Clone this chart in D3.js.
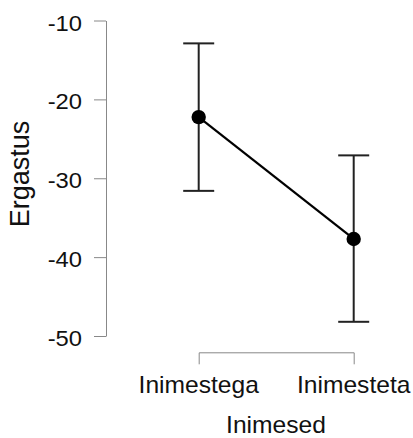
<!DOCTYPE html>
<html>
<head>
<meta charset="utf-8">
<script src="https://cdn.jsdelivr.net/npm/d3@7"></script>
<style>
  body { margin: 0; background: #fff; }
  text { font-family: "Liberation Sans", Arial, sans-serif; fill: #111; }
</style>
</head>
<body>
<div id="chart"></div>
<script>
'use strict';

// data
const groups = ["Inimestega", "Inimesteta"];
const means = [-22.25, -37.7];
const upper = [-12.9, -27.1];
const lower = [-31.6, -48.2];
const yTicks = [-10, -20, -30, -40, -50];
const yTitle = "Ergastus";
const xTitle = "Inimesed";

const W = 413, H = 438;

const svg = d3.select("#chart").append("svg")
    .attr("width", W)
    .attr("height", H);

const y = d3.scaleLinear()
    .domain([-50, -10])
    .range([336, 20.5]);

const x = d3.scalePoint()
    .domain(groups)
    .range([198.7, 353.7]);

// y axis
const yAxis = svg.append("g")
    .attr("transform", "translate(106,0)")
    .call(d3.axisLeft(y).tickValues(yTicks).tickSize(12).tickSizeOuter(0)
        .tickFormat(function(d) { return String(d); }));   // plain hyphen, not unicode minus
yAxis.select(".domain").attr("stroke", "#888");
yAxis.selectAll(".tick line").attr("stroke", "#888");
yAxis.selectAll(".tick text")
    .attr("font-size", 22)
    .attr("font-family", "Liberation Sans, Arial, sans-serif")
    .attr("fill", "#111")
    .attr("dy", "9.5px")
    .attr("transform", "scale(1.08,1)")
    .attr("x", -24 / 1.08);

// x axis bracket
const xAxis = svg.append("g")
    .attr("transform", "translate(0,352.3)")
    .call(d3.axisBottom(x).tickSize(0).tickSizeOuter(12).tickPadding(0));
xAxis.select(".domain").attr("stroke", "#888");
xAxis.selectAll(".tick text").remove();

svg.selectAll(".xlabel")
    .data(groups)
    .enter().append("text")
    .attr("class", "xlabel")
    .attr("transform", function(d) { return "translate(" + x(d) + ",393.3) scale(1.07,1)"; })
    .attr("text-anchor", "middle")
    .attr("font-size", 23)
    .text(function(d) { return d; });

// titles
svg.append("text")
    .attr("transform", "translate(276,433) scale(1.07,1)")
    .attr("text-anchor", "middle")
    .attr("font-size", 23)
    .text(xTitle);

svg.append("text")
    .attr("transform", "translate(29.3,174) rotate(-90)")
    .attr("text-anchor", "middle")
    .attr("font-size", 27)
    .text(yTitle);

// error bars
const rows = groups.map(function(g, i) {
    return {g: g, mean: means[i], hi: upper[i], lo: lower[i]};
});
const capW = 15.5;

const bars = svg.append("g")
    .attr("stroke", "#222")
    .attr("stroke-width", 2);

bars.selectAll(".stem")
    .data(rows)
    .enter().append("line")
    .attr("x1", function(d) { return x(d.g); })
    .attr("x2", function(d) { return x(d.g); })
    .attr("y1", function(d) { return y(d.hi); })
    .attr("y2", function(d) { return y(d.lo); });

bars.selectAll(".capHi")
    .data(rows)
    .enter().append("line")
    .attr("x1", function(d) { return x(d.g) - capW; })
    .attr("x2", function(d) { return x(d.g) + capW; })
    .attr("y1", function(d) { return y(d.hi); })
    .attr("y2", function(d) { return y(d.hi); });

bars.selectAll(".capLo")
    .data(rows)
    .enter().append("line")
    .attr("x1", function(d) { return x(d.g) - capW; })
    .attr("x2", function(d) { return x(d.g) + capW; })
    .attr("y1", function(d) { return y(d.lo); })
    .attr("y2", function(d) { return y(d.lo); });

// mean line and points
const line = d3.line()
    .x(function(d) { return x(d.g); })
    .y(function(d) { return y(d.mean); });

svg.append("path")
    .datum(rows)
    .attr("fill", "none")
    .attr("stroke", "#000")
    .attr("stroke-width", 2.2)
    .attr("d", line);

svg.selectAll(".pt")
    .data(rows)
    .enter().append("circle")
    .attr("cx", function(d) { return x(d.g); })
    .attr("cy", function(d) { return y(d.mean); })
    .attr("r", 7.2)
    .attr("fill", "#000");
</script>
</body>
</html>
